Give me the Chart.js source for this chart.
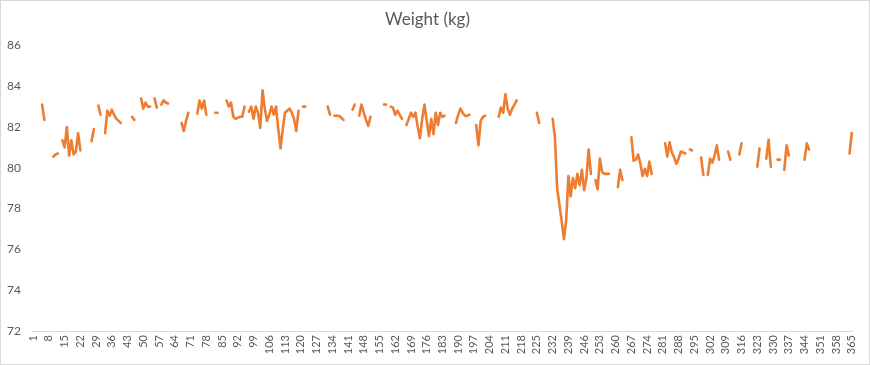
<!DOCTYPE html>
<html>
<head>
<meta charset="utf-8">
<script src="https://cdn.jsdelivr.net/npm/chart.js@4.4.1/dist/chart.umd.min.js"></script>
<style>
  html, body { margin: 0; padding: 0; background: #ffffff; }
  #wrap { position: absolute; left: 0; top: 0; width: 870px; height: 365px; box-sizing: border-box; border: 1px solid #d9d9d9; background: #fff; }
  #c { display: block; }
</style>
</head>
<body>
<div id="wrap"><canvas id="c" width="868" height="363"></canvas></div>
<script>
// ---- DATA ----
const N = null;
const chartTitle = "Weight (kg)";
// day numbers (categories)
const days = Array.from({length: 365}, (_, i) => String(i + 1));
// daily weight in kg (null = no measurement)
const weight = [
  N,N,N,N,83.1,82.35,N,N,N,80.55,                       // 1-10
  80.65,80.7,N,81.35,81.0,82.0,80.6,81.35,80.65,80.8,   // 11-20
  81.7,80.85,N,N,N,N,81.3,81.9,N,83.05,                 // 21-30
  82.6,N,81.7,82.8,82.55,82.85,82.6,82.4,82.3,82.2,     // 31-40
  N,N,N,N,82.5,82.35,N,N,83.4,82.9,                     // 41-50
  83.2,83.0,83.0,N,83.4,82.95,N,83.1,83.3,83.2,         // 51-60
  83.15,N,N,N,N,N,82.2,81.8,82.3,82.7,                  // 61-70
  N,N,N,82.65,83.3,82.9,83.3,82.6,N,N,                  // 71-80
  N,82.7,82.7,N,N,N,83.3,83.0,83.2,82.5,                // 81-90
  82.4,82.45,82.5,82.5,83.0,N,82.75,83.0,82.4,83.0,     // 91-100
  82.7,81.95,83.8,82.9,82.3,82.6,83.0,82.6,83.0,81.9,   // 101-110
  80.95,81.9,82.7,82.8,82.9,82.7,82.4,81.8,82.8,N,      // 111-120
  83.0,83.0,N,N,N,N,N,N,N,N,                            // 121-130
  N,83.0,82.6,N,82.55,82.55,82.55,82.45,82.35,N,        // 131-140
  N,N,82.85,83.1,N,82.55,83.1,82.7,82.35,82.05,         // 141-150
  82.5,N,N,N,N,N,83.1,83.1,N,83.0,                      // 151-160
  82.95,82.6,82.8,82.6,82.4,N,82.1,82.4,82.7,82.5,      // 161-170
  82.7,82.0,81.45,82.4,83.1,82.3,81.55,82.4,81.65,82.7, // 171-180
  82.1,82.7,82.5,82.55,N,N,N,N,82.2,82.6,               // 181-190
  82.9,82.7,82.55,82.55,82.6,N,N,82.1,81.1,82.3,        // 191-200
  82.5,82.55,N,N,N,N,N,82.5,82.95,82.7,                 // 201-210
  83.6,82.9,82.6,82.9,83.1,83.3,N,N,N,N,                // 211-220
  N,N,N,N,82.7,82.2,N,N,N,N,                            // 221-230
  N,82.4,81.5,79.0,78.2,77.4,76.5,77.4,79.6,78.6,       // 231-240
  79.5,79.0,79.7,79.15,79.9,78.9,79.5,80.9,79.7,N,      // 241-250
  79.4,78.95,80.45,79.8,79.7,79.7,79.7,N,N,N,           // 251-260
  79.05,79.9,79.4,N,N,N,81.5,80.35,80.4,80.65,          // 261-270
  80.2,79.6,79.95,79.6,80.3,79.7,N,N,N,N,               // 271-280
  N,81.2,80.55,81.25,80.75,80.5,80.2,80.45,80.8,80.75,  // 281-290
  80.7,N,80.9,80.85,N,N,N,80.5,79.65,N,                 // 291-300
  79.65,80.45,80.25,80.6,81.1,80.4,N,N,N,80.8,          // 301-310
  80.4,N,N,N,80.65,81.2,N,N,N,N,                        // 311-320
  N,N,80.05,80.95,N,N,80.45,81.37,80.05,N,              // 321-330
  N,80.4,80.4,N,79.9,81.1,80.6,N,N,N,                   // 331-340
  N,N,N,80.4,81.2,80.9,N,N,N,N,                         // 341-350
  N,N,N,N,N,N,N,N,N,N,                                  // 351-360
  N,N,N,80.7,81.7                                       // 361-365
];
const yMin = 72, yMax = 86, yStep = 2;
const labelEvery = 7;

// ---- CHART ----
Chart.defaults.font.family = "Lato, 'Open Sans', sans-serif";
Chart.defaults.color = '#595959';

new Chart(document.getElementById('c'), {
  type: 'line',
  data: {
    labels: days,
    datasets: [{
      label: chartTitle,
      data: weight,
      borderColor: '#ED7D31',
      backgroundColor: '#ED7D31',
      borderWidth: 2.6,
      pointRadius: 0,
      pointHoverRadius: 0,
      spanGaps: false,
      tension: 0,
      borderJoinStyle: 'round',
      borderCapStyle: 'round'
    }]
  },
  options: {
    responsive: false,
    animation: false,
    devicePixelRatio: 1,
    layout: { padding: { left: 0, right: 15, top: 0, bottom: 0 } },
    plugins: {
      legend: { display: false },
      tooltip: { enabled: false },
      title: {
        display: true,
        text: chartTitle,
        color: '#595959',
        font: { size: 17, weight: 'normal' },
        padding: { top: 8, bottom: 16 }
      }
    },
    scales: {
      x: {
        type: 'category',
        offset: true,
        grid: { display: false, drawTicks: false },
        border: { display: true, color: '#d9d9d9', width: 1 },
        ticks: {
          autoSkip: false,
          maxRotation: 90,
          minRotation: 90,
          padding: 4,
          color: '#595959',
          font: { size: 11 },
          callback: function(v, i) { return (i % labelEvery === 0) ? days[i] : ''; }
        },
        afterFit: function(s) { s.height = 33; }
      },
      y: {
        min: yMin,
        max: yMax,
        grid: { display: false, drawTicks: false },
        border: { display: false },
        ticks: {
          stepSize: yStep,
          padding: 11,
          color: '#595959',
          font: { size: 12 }
        },
        afterFit: function(s) { s.width = 31; }
      }
    }
  }
});
</script>
</body>
</html>
